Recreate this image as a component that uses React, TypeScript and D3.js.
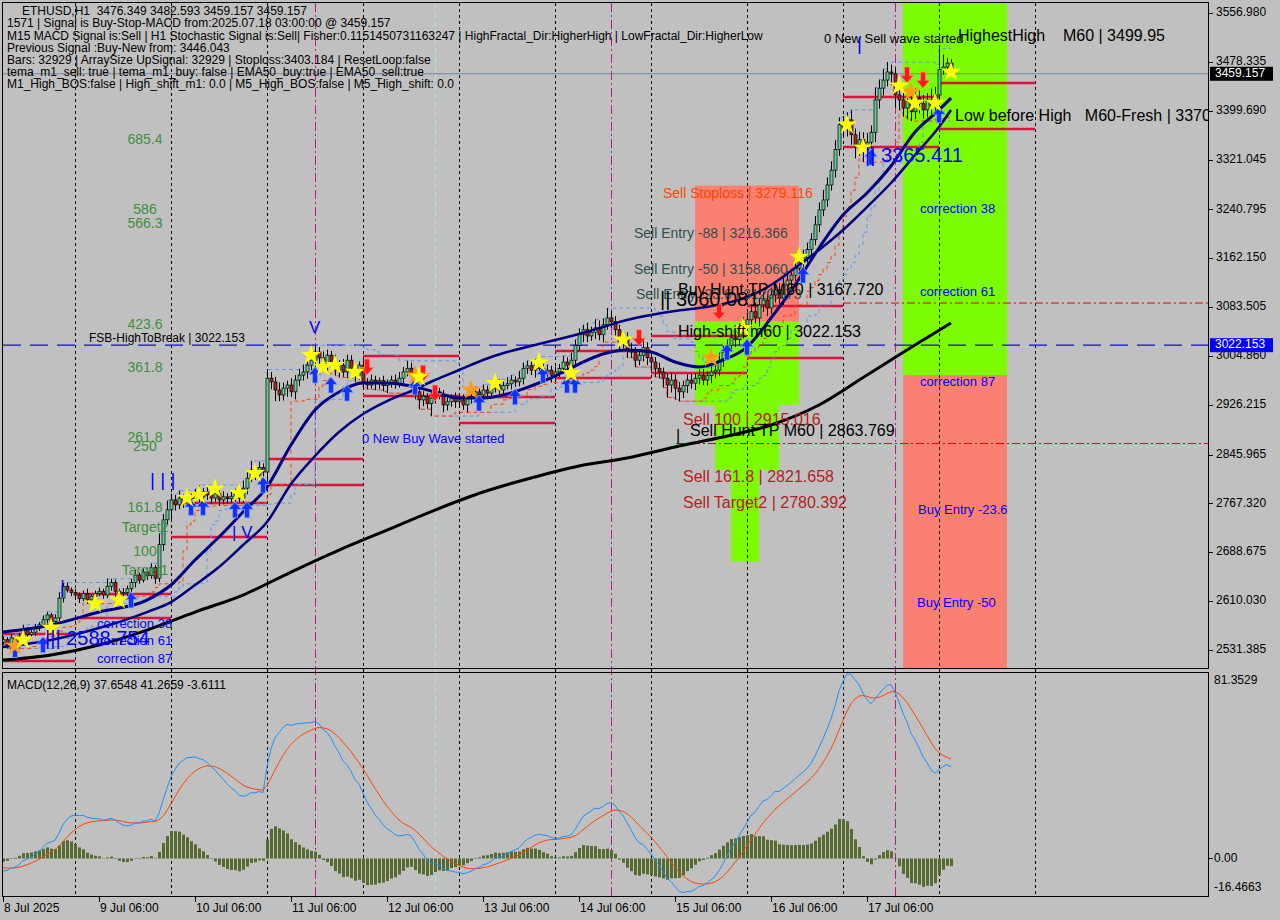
import React from 'react';
import * as d3 from 'd3';

// ---------- DATA ----------
const firstOpen = 2544;
const closes = [
  2548,2540,2551,2544,2554,2564,2556,2560,2567,2572,2580,2588,2577,2583,2615,2634,2628,2624,
  2620,2614,2622,2612,2618,2622,2626,2620,2634,2640,2626,2622,2624,2630,2640,2652,2644,2657,2651,2664,2647,2701,2741,2757,
  2773,2765,2776,2770,2779,2775,2783,2778,2786,2781,2776,2783,2773,2778,2775,2779,2783,2776,2792,2808,2821,2813,2825,2818,
  2969,2963,2950,2942,2953,2958,2947,2966,2974,2979,2990,2998,3011,3002,2990,3006,2995,2982,2990,2979,2998,2985,2974,2990,
  2963,2958,2966,2960,2965,2957,2961,2966,2960,2969,2979,2985,2973,2947,2934,2940,2928,2937,2947,2942,2926,2931,2937,2931,
  2934,2926,2937,2940,2947,2942,2950,2945,2953,2958,2950,2957,2960,2966,2963,2969,2985,2989,2982,2990,2985,2979,2982,2974,
  2979,2985,2995,2990,2998,3022,3039,3047,3037,3043,3050,3039,3055,3066,3060,3047,3027,3034,3014,3011,2998,3006,3018,3002,
  2995,2985,2979,2969,2958,2966,2953,2947,2957,2966,2961,2969,2974,2966,2973,2979,2982,2998,3011,3022,3034,3031,3043,3055,
  3063,3076,3066,3087,3095,3082,3103,3111,3098,3119,3127,3135,3146,3156,3163,3176,3192,3216,3240,3256,3280,3304,3337,3377,
  3372,3385,3361,3345,3353,3337,3349,3365,3417,3436,3449,3462,3459,3425,3417,3404,3414,3398,3420,3411,3401,3417,3407,3425,
  3466,3470,3476.349,3459.157,
];
const hiWick = [
  5,4,6,3,5,8,4,5,6,4,7,5,3,6,9,5,6,4,
  6,4,5,8,3,5,6,4,12,6,5,4,7,5,6,8,4,6,5,7,4,18,9,15,
  10,8,12,6,9,7,8,14,6,9,7,8,5,9,6,7,8,10,12,9,15,8,10,7,
  14,10,8,12,9,7,11,8,10,12,9,14,11,8,10,9,7,12,8,10,9,8,7,6,
  8,6,9,7,5,8,6,7,9,10,8,12,9,7,6,8,5,9,7,6,8,7,6,9,
  8,9,7,6,8,5,9,7,6,8,9,7,10,8,6,12,9,8,7,10,14,8,9,7,
  9,7,10,8,12,9,10,8,11,9,14,12,10,16,11,9,8,10,9,12,8,10,14,9,
  10,8,9,7,8,12,9,10,8,9,11,8,9,10,7,9,8,12,10,9,11,10,14,12,
  12,10,14,11,13,10,12,15,11,12,14,10,12,9,13,11,10,14,12,16,12,14,15,12,
  14,12,16,10,13,12,15,11,20,14,18,16,12,10,14,12,15,13,16,12,14,11,18,13,
  34,20,8,6.244,
];
const loWick = [
  4,6,3,5,7,4,5,3,6,5,4,6,8,4,5,7,4,6,
  5,7,4,6,5,8,4,6,5,7,9,5,4,6,5,8,6,4,7,5,9,6,10,8,
  18,9,7,10,8,12,6,9,7,8,10,6,9,7,8,6,9,7,8,10,6,8,9,7,
  20,12,18,10,9,14,8,12,10,9,11,8,10,12,9,10,8,9,12,8,10,9,11,8,
  9,7,6,10,8,9,12,7,8,6,9,7,10,12,15,10,8,20,9,7,12,9,8,10,
  10,8,12,9,7,15,8,6,9,7,8,10,6,9,8,7,10,9,8,12,9,10,8,12,
  10,8,9,12,8,10,9,12,10,8,11,9,12,8,10,9,14,10,12,9,11,8,10,12,
  12,14,10,15,20,12,18,15,10,12,9,11,10,8,9,12,10,9,11,8,10,12,9,10,
  10,12,9,14,11,13,10,12,9,11,10,12,9,10,11,8,10,9,12,10,11,9,12,10,
  12,14,16,22,18,20,15,12,16,14,12,10,18,20,16,14,18,15,12,16,14,12,15,10,
  10,8,9,0,
];

// moving averages: [bar, price]
const maFast = [
  [0,2560.3],[12,2571.6],[24,2592.5],[36,2611.8],[42,2636.0],[48,2676.2],[54,2713.3],[60,2753.5],[66,2793.8],
  [72,2861.4],[78,2917.8],[84,2946.7],[90,2961.2],[96,2961.2],[102,2956.4],[108,2946.7],[114,2937.1],[120,2937.1],
  [126,2943.5],[132,2956.4],[138,2972.5],[144,2991.8],[150,3007.9],[156,3014.4],[162,3011.1],[168,2995.0],[174,2987.0],
  [180,2998.3],[186,3019.2],[192,3065.9],[198,3119.0],[204,3178.6],[210,3231.7],[216,3267.2],[222,3310.6],[228,3365.4],
  [234,3400.8],[237,3420.1],
];
const maSlow = [
  [0,2536.1],[12,2547.4],[24,2566.7],[36,2592.5],[42,2608.6],[48,2636.0],[54,2665.0],[60,2700.4],[66,2737.4],
  [72,2798.6],[78,2843.7],[84,2882.3],[90,2911.3],[96,2932.2],[102,2948.3],[108,2966.1],[114,2982.2],[120,2998.3],
  [126,3011.1],[132,3020.8],[138,3030.5],[144,3040.1],[150,3051.4],[156,3062.7],[162,3070.7],[168,3077.2],[174,3082.0],
  [180,3088.4],[186,3099.7],[192,3119.0],[198,3146.4],[204,3175.4],[210,3207.6],[216,3244.6],[222,3283.3],[228,3328.3],
  [234,3373.4],[237,3400.8],
];
const ma200 = [
  [0,2515.2],[12,2523.3],[24,2539.4],[36,2563.5],[48,2592.5],[60,2619.9],[72,2656.9],[84,2692.3],[96,2724.5],
  [108,2756.7],[120,2785.7],[132,2808.3],[144,2827.6],[156,2840.5],[168,2858.3],[180,2874.3],[192,2893.6],[204,2925.8],
  [216,2974.1],[228,3022.6],[237,3057.8],
];

// MACD seeds at the first bar, and the legend values
const macdStart = -5.5;
const signalStart = -4.0;
const macdLegend = [37.6548, 41.2659, -3.6111];

// daily levels: [startBar, endBar, high, low]
const dayLevels = [
  [0,18,2557.1,2513.6],[18,42,2621.5,2582.8],[42,66,2768.0,2713.3],[66,90,2838.9,2797.0],
  [90,114,3004.7,2940.3],[114,138,2938.7,2896.8],[138,162,3012.8,2969.3],[162,186,3036.9,2977.3],
  [186,210,3085.2,3001.5],[210,234,3421.7,3341.2],[234,258,3444.3,3370.2],
];

// zones: [startBar, endBar, top, bottom]
const salmonZones = [[173,199,3279.116,3060.081],[225,251,2974.1,2502.4]];
const greenZones = [[173,199,3060.081,2926.2],[178,194,2926.2,2821.658],[182,189,2821.658,2673.3],[225,251,3573.1,2974.1]];

const stars = [[5,2548],[12,2567],[23,2606],[29,2612],[46,2776],[49,2781],[53,2791],[59,2784],[63,2816],[77,3006],
  [80,2987],[83,2990],[88,2979],[104,2971],[123,2961],[134,2994],[142,2977],[155,3031],[185,3050],[199,3164],
  [211,3377],[215,3340],[224,3440],[228,3412],[233,3412],[237,3462]];
const orangeStars = [[3,2538],[103,2973],[117,2950],[177,3002],[227,3430]];
const upArrows = [[3,2532],[10,2540],[32,2612],[47,2761],[50,2761],[58,2757],[61,2757],[65,2797],[78,2974],[82,2958],
  [86,2945],[103,2955],[119,2929],[128,2939],[135,2974],[141,2958],[143,2958],[181,3011],[186,3019],[200,3135],
  [217,3325],[234,3393]];
const downArrows = [[91,2987],[105,2977],[108,2945],[159,3034],[179,3076],[226,3457],[230,3449]];

const fibLabels = [['685.4',3352.6],['586',3239.9],['566.3',3217.4],['423.6',3054.8],['361.8',2985.5],['261.8',2872.8],
  ['250',2858.3],['161.8',2760.1],['Target2',2727.9],['100',2689.3],['Target1',2658.7]];

const priceTicks = [3556.98,3478.335,3399.69,3321.045,3240.795,3162.15,3083.505,3004.86,2926.215,2845.965,2767.32,2688.675,2610.03,2531.385];
const timeLabels = ['8 Jul 2025','9 Jul 06:00','10 Jul 06:00','11 Jul 06:00','12 Jul 06:00','13 Jul 06:00','14 Jul 06:00','15 Jul 06:00','16 Jul 06:00','17 Jul 06:00'];
const separatorBars = [18,42,66,90,114,138,162,186,210,234,258];
const magentaBars = [78,152,223];
const lastPrice = 3459.157;
const fsbLevel = 3022.153;
const buyHuntLevel = 3090.0;
const sellHuntLevel = 2863.769;

const infoLines = [
  'ETHUSD,H1  3476.349 3482.593 3459.157 3459.157',
  '1571 | Signal is Buy-Stop-MACD from:2025.07.18 03:00:00 @ 3459.157',
  'M15 MACD Signal is:Sell | H1 Stochastic Signal is:Sell| Fisher:0.1151450731163247 | HighFractal_Dir:HigherHigh | LowFractal_Dir:HigherLow',
  'Previous Signal :Buy-New from: 3446.043',
  'Bars: 32929 | ArraySize UpSignal: 32929 | Stoploss:3403.184 | ResetLoop:false',
  'tema_m1_sell: true | tema_m1_buy: false | EMA50_buy:true | EMA50_sell:true',
  'M1_High_BOS:false | High_shift_m1: 0.0 | M5_High_BOS:false | M5_High_shift: 0.0',
];

// annotation texts: [text, bar, price, color, size]
const notes: [string, number, number, string, number][] = [
  ['Sell Stoploss | 3279.116',165,3265.5,'#ff4500',14],
  ['Sell Entry -88 | 3216.366',157.75,3201.1,'#2f4f4f',14],
  ['Sell Entry -50 | 3158.060',157.75,3143.2,'#2f4f4f',14],
  ['Sell Entry -23.6 | 3120.173',158.25,3102.9,'#2f4f4f',14],
  ['Buy Hunt TP M60 | 3167.720',168.75,3109.4,'#000000',16],
  ['|| 3060.081',164.25,3093.3,'#000000',20],
  ['High-shift m60 | 3022.153',168.75,3041.7,'#000000',16],
  ['Sell 100 | 2915.016',170,2900,'#b22222',16],
  ['Sell Hunt TP M60 | 2863.769',171.75,2882.3,'#000000',16],
  ['|',168.25,2874.3,'#000000',16],
  ['Sell 161.8 | 2821.658',170,2808.3,'#b22222',16],
  ['Sell Target2 | 2780.392',170,2766.4,'#b22222',16],
  ['0 New Buy Wave started',89.75,2871,'#0000ff',13],
  ['0 New Sell wave started',205.25,3513.5,'#000000',13],
  ['HighestHigh    M60 | 3499.95',238.75,3518.3,'#000000',16],
  ['Low before High   M60-Fresh | 3370',238,3389.5,'#000000',16],
  ['|| 3365.411',215.5,3325.1,'#0000ff',20],
  ['||| 2588.754',10.5,2547.4,'#0000ff',20],
  ['FSB-HighToBreak | 3022.153',21.5,3032.1,'#000000',12],
  ['correction 38',23.5,2571.6,'#0000ff',13],
  ['correction 61',23.5,2544.3,'#0000ff',13],
  ['correction 87',23.5,2515.2,'#0000ff',13],
  ['correction 38',229.25,3239.8,'#0000ff',13],
  ['correction 61',229.25,3106.1,'#0000ff',13],
  ['correction 87',229.25,2961.2,'#0000ff',13],
  ['Buy Entry -23.6',228.75,2755.2,'#0000ff',13],
  ['Buy Entry -50',228.5,2605.4,'#0000ff',13],
  ['V',76.5,3049.8,'#0000ff',17],
  ['| | |',36.75,2803.4,'#0000ff',19],
  ['| V',57.25,2719.7,'#0000ff',17],
  ['|',14.25,2631.2,'#0000ff',19],
  ['|',213.5,3505.5,'#0000ff',19],
];

const FONT = '"Liberation Sans", Arial, sans-serif';

export default function App() {
  const x = d3.scaleLinear().domain([0, 301]).range([3, 1207]);
  const y = d3.scaleLinear().domain([2502.4, 3573.1]).range([668, 3]);
  const ym = d3.scaleLinear().domain([-16.4663, 81.3529]).range([896, 673]);

  const bars = closes.map((c, i) => {
    const o = i === 0 ? firstOpen : closes[i - 1];
    return { i, o, c, h: Math.max(o, c) + hiWick[i], l: Math.min(o, c) - loWick[i] };
  });

  // channels computed from candles
  const upper = bars.map((b, i) => [i, d3.max(bars.slice(Math.max(0, i - 11), i + 1), d => d.h) as number]);
  const lower = bars.map((b, i) => [i, d3.min(bars.slice(Math.max(0, i - 11), i + 1), d => d.l) as number]);
  const trail = bars.map((b, i) => [i, d3.min(bars.slice(Math.max(0, i - 5), i + 1), d => d.l) as number]);

  // MACD
  const k12 = 2 / 13, k26 = 2 / 27, k9 = 2 / 10;
  let e26 = closes[0];
  let e12 = closes[0] + macdStart;
  let sig = signalStart;
  const macd: number[] = [], signal: number[] = [];
  closes.forEach((c, i) => {
    if (i > 0) {
      e12 += k12 * (c - e12);
      e26 += k26 * (c - e26);
      const m = e12 - e26;
      sig += k9 * (m - sig);
    }
    macd.push(e12 - e26);
    signal.push(sig);
  });

  const maLine = d3.line<number[]>().x(d => x(d[0])).y(d => y(d[1])).curve(d3.curveMonotoneX);
  const stepLine = d3.line<number[]>().x(d => x(d[0])).y(d => y(d[1])).curve(d3.curveStepAfter);
  const macdLine = d3.line<number>().x((d, i) => x(i)).y(d => ym(d));
  const starPath = d3.symbol().type(d3.symbolStar).size(125)() as string;
  const upPath = 'M0,-8 L6.5,-0.5 L2.5,-0.5 L2.5,8 L-2.5,8 L-2.5,-0.5 L-6.5,-0.5 Z';
  const downPath = 'M0,8 L6.5,0.5 L2.5,0.5 L2.5,-8 L-2.5,-8 L-2.5,0.5 L-6.5,0.5 Z';

  const bullFill = '#5ccf8f', bearFill = '#b22222';
  const pre = { whiteSpace: 'pre' as const };

  return (
    <svg width={1280} height={920} style={{ position: 'absolute', left: 0, top: 0, background: '#c0c0c0' }}
      fontFamily={FONT}>
      <defs>
        <clipPath id="mainClip"><rect x={3} y={3} width={1205} height={665} /></clipPath>
        <clipPath id="macdClip"><rect x={3} y={673} width={1205} height={223} /></clipPath>
      </defs>
      <rect x={0} y={0} width={1280} height={920} fill="#c0c0c0" />

      <g clipPath="url(#mainClip)">
        {salmonZones.map((z, k) => (
          <rect key={'s' + k} x={x(z[0])} y={y(z[2])} width={x(z[1]) - x(z[0])} height={y(z[3]) - y(z[2])} fill="#fa8072" />
        ))}
        {greenZones.map((z, k) => (
          <rect key={'g' + k} x={x(z[0])} y={y(z[2])} width={x(z[1]) - x(z[0])} height={y(z[3]) - y(z[2])} fill="#7cfc00" />
        ))}
      </g>

      {/* separators */}
      {separatorBars.map(b => (
        <line key={'sep' + b} x1={Math.round(x(b)) + 0.5} x2={Math.round(x(b)) + 0.5} y1={3} y2={896} stroke="#000" strokeDasharray="3,3" />
      ))}
      {magentaBars.map(b => (
        <line key={'mg' + b} x1={Math.round(x(b)) + 0.5} x2={Math.round(x(b)) + 0.5} y1={3} y2={896} stroke="#c71585" strokeDasharray="9,3,2,3" />
      ))}
      <line x1={x(108) + 0.5} x2={x(108) + 0.5} y1={3} y2={896} stroke="#b0e0e6" strokeDasharray="6,3" />

      <g clipPath="url(#mainClip)">
        {/* horizontal levels */}
        <line x1={3} x2={1208} y1={y(lastPrice)} y2={y(lastPrice)} stroke="#778899" />
        <line x1={3} x2={1208} y1={y(fsbLevel)} y2={y(fsbLevel)} stroke="#1010d0" strokeWidth={1.2} strokeDasharray="18,9" />
        <line x1={x(210)} x2={1208} y1={y(buyHuntLevel)} y2={y(buyHuntLevel)} stroke="#e00000" strokeDasharray="8,3,2,3" />
        <line x1={x(168.25)} x2={1208} y1={y(sellHuntLevel)} y2={y(sellHuntLevel)} stroke="#e00000" strokeDasharray="8,3,2,3" />

        {dayLevels.map((d, k) => (
          <g key={'dl' + k}>
            <line x1={x(d[0])} x2={x(d[1])} y1={y(d[2])} y2={y(d[2])} stroke="#dc143c" strokeWidth={2.5} />
            <line x1={x(d[0])} x2={x(d[1])} y1={y(d[3])} y2={y(d[3])} stroke="#dc143c" strokeWidth={2.5} />
          </g>
        ))}

        {/* channels */}
        <path d={stepLine(upper) as string} fill="none" stroke="#6495ed" strokeDasharray="4,3" />
        <path d={stepLine(lower) as string} fill="none" stroke="#6495ed" strokeDasharray="4,3" />
        <path d={stepLine(trail) as string} fill="none" stroke="#ff4500" strokeDasharray="4,3" />

        {/* candles */}
        {bars.map(b => {
          const cx = Math.round(x(b.i));
          const top = y(Math.max(b.o, b.c)), bot = y(Math.min(b.o, b.c));
          return (
            <g key={'c' + b.i}>
              <line x1={cx + 0.5} x2={cx + 0.5} y1={y(b.h)} y2={y(b.l)} stroke="#000" />
              <rect x={cx - 1} y={top} width={3} height={Math.max(1, bot - top)} fill={b.c >= b.o ? bullFill : bearFill} stroke="#000" strokeWidth={0.7} />
            </g>
          );
        })}

        {/* moving averages */}
        <path d={maLine(ma200) as string} fill="none" stroke="#000" strokeWidth={3} />
        <path d={maLine(maSlow) as string} fill="none" stroke="#000080" strokeWidth={2.5} />
        <path d={maLine(maFast) as string} fill="none" stroke="#000080" strokeWidth={3} />

        {/* markers */}
        {upArrows.map((a, k) => (
          <path key={'ua' + k} d={upPath} transform={`translate(${x(a[0])},${y(a[1])})`} fill="#1432ff" stroke="#7fa8ff" strokeWidth={0.8} />
        ))}
        {downArrows.map((a, k) => (
          <path key={'da' + k} d={downPath} transform={`translate(${x(a[0])},${y(a[1])})`} fill="#ff1a1a" stroke="#ff8080" strokeWidth={0.8} />
        ))}
        {orangeStars.map((s, k) => (
          <path key={'os' + k} d={starPath} transform={`translate(${x(s[0])},${y(s[1])})`} fill="#ff9a1a" />
        ))}
        {stars.map((s, k) => (
          <path key={'st' + k} d={starPath} transform={`translate(${x(s[0])},${y(s[1])})`} fill="#ffff00" />
        ))}

        {/* fib labels */}
        {fibLabels.map((f, k) => (
          <text key={'fb' + k} x={x(35.5)} y={y(f[1] as number)} fontSize={14} fill="#3d8f3d" textAnchor="middle" dominantBaseline="middle">{f[0]}</text>
        ))}

        {notes.map((n, k) => (
          <text key={'n' + k} x={x(n[1])} y={y(n[2])} fontSize={n[4]} fill={n[3]} dominantBaseline="middle" style={pre}>{n[0]}</text>
        ))}
      </g>

      {/* info text */}
      {infoLines.map((t, k) => (
        <text key={'inf' + k} x={k === 0 ? 22 : 7} y={12 + k * 12.2} fontSize={12} fill="#000" dominantBaseline="middle" style={pre}>{t}</text>
      ))}

      {/* MACD panel */}
      <g clipPath="url(#macdClip)">
        {macd.map((m, i) => {
          const h = m - signal[i];
          const y0 = ym(0), y1 = ym(h);
          return <rect key={'h' + i} x={Math.round(x(i)) - 1} y={Math.min(y0, y1)} width={3} height={Math.max(0.5, Math.abs(y1 - y0))} fill="#556b2f" />;
        })}
        <path d={macdLine(signal) as string} fill="none" stroke="#ff4500" strokeWidth={1} />
        <path d={macdLine(macd) as string} fill="none" stroke="#1e90ff" strokeWidth={1} />
      </g>
      <text x={7} y={686} fontSize={12} fill="#000" dominantBaseline="middle">
        {`MACD(12,26,9) ${macdLegend[0].toFixed(4)} ${macdLegend[1].toFixed(4)} ${macdLegend[2].toFixed(4)}`}
      </text>

      {/* frames */}
      <rect x={2.5} y={2.5} width={1206} height={666} fill="none" stroke="#000" />
      <rect x={2.5} y={672.5} width={1206} height={224} fill="none" stroke="#000" />

      {/* price axis */}
      {priceTicks.map(p => (
        <g key={'pt' + p}>
          <line x1={1209} x2={1213} y1={Math.round(y(p)) + 0.5} y2={Math.round(y(p)) + 0.5} stroke="#000" />
          <text x={1216} y={y(p)} fontSize={12} fill="#000" dominantBaseline="middle">{p.toFixed(3)}</text>
        </g>
      ))}
      <rect x={1210} y={y(fsbLevel) - 7} width={63} height={14} fill="#0000ff" />
      <text x={1215} y={y(fsbLevel)} fontSize={12} fill="#fff" dominantBaseline="middle">{fsbLevel.toFixed(3)}</text>
      <rect x={1210} y={y(lastPrice) - 7} width={63} height={14} fill="#000" />
      <text x={1215} y={y(lastPrice)} fontSize={12} fill="#fff" dominantBaseline="middle">{lastPrice.toFixed(3)}</text>

      {/* macd axis */}
      <line x1={1209} x2={1213} y1={Math.round(ym(0)) + 0.5} y2={Math.round(ym(0)) + 0.5} stroke="#000" />
      <text x={1214} y={681} fontSize={12} fill="#000" dominantBaseline="middle">81.3529</text>
      <text x={1214} y={ym(0)} fontSize={12} fill="#000" dominantBaseline="middle">0.00</text>
      <text x={1214} y={888} fontSize={12} fill="#000" dominantBaseline="middle">-16.4663</text>

      {/* time axis */}
      {timeLabels.map((t, k) => (
        <g key={'tl' + k}>
          <line x1={Math.round(x(k * 24)) + 0.5} x2={Math.round(x(k * 24)) + 0.5} y1={897} y2={902} stroke="#000" />
          <text x={x(k * 24) + 1} y={909} fontSize={12} fill="#000" dominantBaseline="middle">{t}</text>
        </g>
      ))}
    </svg>
  );
}
